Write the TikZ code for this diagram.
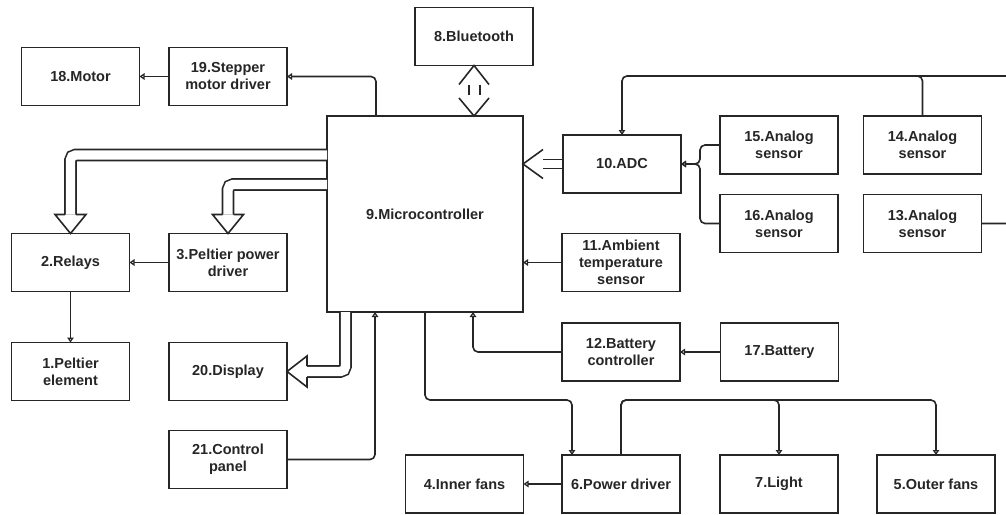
\documentclass[tikz,border=0pt]{standalone}
\usepackage{fontspec}
\setmainfont{Liberation Sans}
\usetikzlibrary{arrows.meta,calc}
\definecolor{ink}{HTML}{262626}
\begin{document}
\begin{tikzpicture}[x=1pt,y=-1pt,
  box/.style={draw=ink, line width=1.6pt, minimum width=118pt, minimum height=58pt, inner sep=1pt, outer sep=0pt, align=center, font=\fontsize{14.5}{17}\selectfont\bfseries, text=ink},
  conn/.style={draw=ink, line width=1.6pt, rounded corners=5pt},
  arr/.style={conn, -{Triangle[open,length=5pt,width=6.5pt]}},
  dbl/.style={draw=ink, line width=1.6pt, double=white, double distance=9.4pt, rounded corners=5pt},
  head/.style={draw=ink, line width=1.6pt, line join=miter},
  bar/.style={draw=ink, line width=2pt},
]
\useasboundingbox (0,0) rectangle (1006,514);
\fill[white] (0,0) rectangle (1006,514);
% nodes
\node[box] (mo) at (80.5,76.5) {18.Motor};
\node[box] (sd) at (228,76.5) {19.Stepper\\motor driver};
\node[box] (bt) at (474,36.5) {8.Bluetooth};
\node[box, minimum width=196pt, minimum height=196pt] (mc) at (425,214) {9.Microcontroller};
\node[box] (adc) at (622,164) {10.ADC};
\node[box] (a15) at (779,145) {15.Analog\\sensor};
\node[box] (a14) at (922.5,145) {14.Analog\\sensor};
\node[box] (a16) at (779,223.5) {16.Analog\\sensor};
\node[box] (a13) at (922.5,223.5) {13.Analog\\sensor};
\node[box] (rel) at (70.5,262.5) {2.Relays};
\node[box] (pp) at (228,262.5) {3.Peltier power\\driver};
\node[box] (pe) at (70.5,371.5) {1.Peltier\\element};
\node[box] (disp) at (228,371.5) {20.Display};
\node[box] (cp) at (228,459.5) {21.Control\\panel};
\node[box] (amb) at (621,262.5) {11.Ambient\\temperature\\sensor};
\node[box] (bc) at (621,352) {12.Battery\\controller};
\node[box] (bat) at (779.5,352) {17.Battery};
\node[box] (inf) at (464.5,484) {4.Inner fans};
\node[box] (pd) at (621,484) {6.Power driver};
\node[box] (lt) at (779,484) {7.Light};
\node[box] (of) at (936,484) {5.Outer fans};
% helper coordinates
\coordinate (busY) at (0,400);
\coordinate (topY) at (0,76);
\coordinate (pdin) at ($(pd.north west)+(10,0)$);
\coordinate (adcj) at ($(adc.east)+(19,0)$);
\coordinate (t14) at ($(a14.north)+(-20,0)$);
% simple connectors
\draw[arr] (sd.west) -- (mo.east);
\draw[arr] ($(mc.north)+(-49,0)$) |- (sd.east);
\draw[arr] (pp.west) -- (rel.east);
\draw[arr] (rel.south) -- (pe.north);
\draw[arr] (amb.west) -- (amb.west -| mc.east);
\draw[arr] (bat.west) -- (bc.east);
\draw[arr] (bc.west) -| ($(mc.south)+(48,0)$);
\draw[arr] (cp.east) -| ($(mc.south)+(-50,0)$);
\draw[arr] (mc.south) |- (pdin |- busY) -- (pdin);
\draw[arr] (pd.north) |- (lt.north |- busY) -- (lt.north);
\draw[arr] (pd.north) |- (of.north |- busY) -- (of.north);
\draw[arr] (pd.west) -- (inf.east);
\draw[arr] (a15.west) -| (adcj) -- (adc.east);
\draw[arr] (a16.west) -| (adcj) -- (adc.east);
\draw[arr] (a13.east) -- ++(40,0) |- (adc.north |- topY) -- (adc.north);
\draw[conn] (a14.north) |- (t14 |- topY);
% block arrows (double shafts)
\draw[dbl] ($(mc.west)+(0,-59)$) -| ($(rel.north)+(0,-19)$);
\draw[head] ($(rel.north)+(-5.5,-19)$) -- ($(rel.north)+(-15.5,-19)$) -- (rel.north) -- ($(rel.north)+(15.5,-19)$) -- ($(rel.north)+(5.5,-19)$);
\draw[dbl] ($(mc.west)+(0,-29.5)$) -| ($(pp.north)+(0,-19)$);
\draw[head] ($(pp.north)+(-5.5,-19)$) -- ($(pp.north)+(-15.5,-19)$) -- (pp.north) -- ($(pp.north)+(15.5,-19)$) -- ($(pp.north)+(5.5,-19)$);
\draw[dbl] ($(mc.south west)+(18.5,0)$) |- ($(disp.east)+(20,0)$);
\draw[head] ($(disp.east)+(20,-5.5)$) -- ($(disp.east)+(20,-15.5)$) -- (disp.east) -- ($(disp.east)+(20,15.5)$) -- ($(disp.east)+(20,5.5)$);
% bluetooth link
\coordinate (btT) at (bt.south);
\coordinate (btB) at (bt.south |- mc.north);
\draw[head] ($(btT)+(-15,19)$) -- (btT) -- ($(btT)+(15,19)$);
\draw[head] ($(btB)+(-15,-18)$) -- (btB) -- ($(btB)+(15,-18)$);
\draw[bar] ($(btT)+(-5.5,19)$) -- ($(btT)+(-5.5,29)$);
\draw[bar] ($(btT)+(5.5,19)$) -- ($(btT)+(5.5,29)$);
% ADC link
\coordinate (adcT) at (mc.east |- adc.west);
\draw[head] ($(adcT)+(20,-14.5)$) -- (adcT) -- ($(adcT)+(20,14.5)$);
\draw[head] ($(adc.west)+(0,-4.5)$) -- ++(-20,0);
\draw[head] ($(adc.west)+(0,4.5)$) -- ++(-20,0);
\end{tikzpicture}
\end{document}
